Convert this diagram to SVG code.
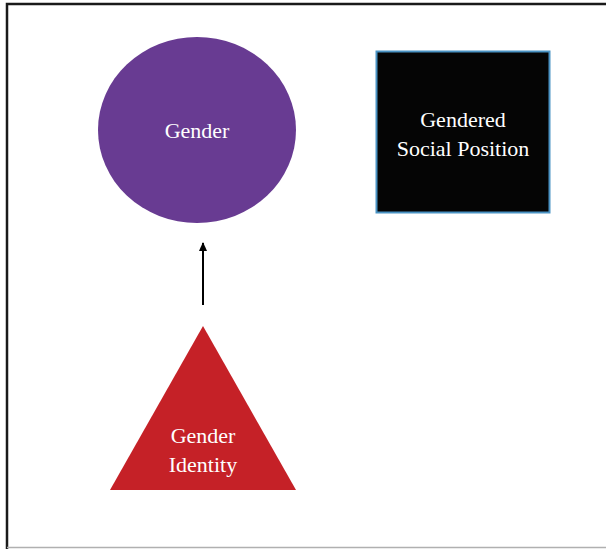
<svg xmlns="http://www.w3.org/2000/svg" width="606" height="549" viewBox="0 0 606 549">
<defs>
<style>
.t{font-family:"Liberation Serif","DejaVu Serif",serif;font-size:22px;fill:#ffffff;text-anchor:middle}
</style>
<marker id="ah" markerWidth="10" markerHeight="10" refX="8" refY="4" orient="auto" markerUnits="userSpaceOnUse">
<path d="M0,0 L9,4 L0,8 Z" fill="#000"/>
</marker>
</defs>
<rect x="0" y="0" width="606" height="549" fill="#fff"/>
<path d="M7,549 V4 H606" fill="none" stroke="#1a1a1a" stroke-width="2.5"/>
<line x1="7" y1="547.5" x2="606" y2="547.5" stroke="#b0b0b0" stroke-width="1.5"/>
<g id="connectors">
<line x1="203" y1="305" x2="203" y2="243" stroke="#000" stroke-width="2" marker-end="url(#ah)"/>
</g>
<g id="gender">
<ellipse cx="197" cy="130" rx="99" ry="93" fill="#683b92"/>
<text class="t" x="197" y="138">Gender</text>
</g>
<g id="gendered-social-position">
<rect x="376.5" y="51.5" width="173" height="161" fill="#050505" stroke="#4a93c4" stroke-width="2"/>
<text class="t" x="463" y="127">Gendered</text>
<text class="t" x="463" y="156">Social Position</text>
</g>
<g id="gender-identity">
<polygon points="203,326 296,490 110,490" fill="#c52127"/>
<text class="t" x="203" y="443">Gender</text>
<text class="t" x="203" y="472">Identity</text>
</g>
</svg>
